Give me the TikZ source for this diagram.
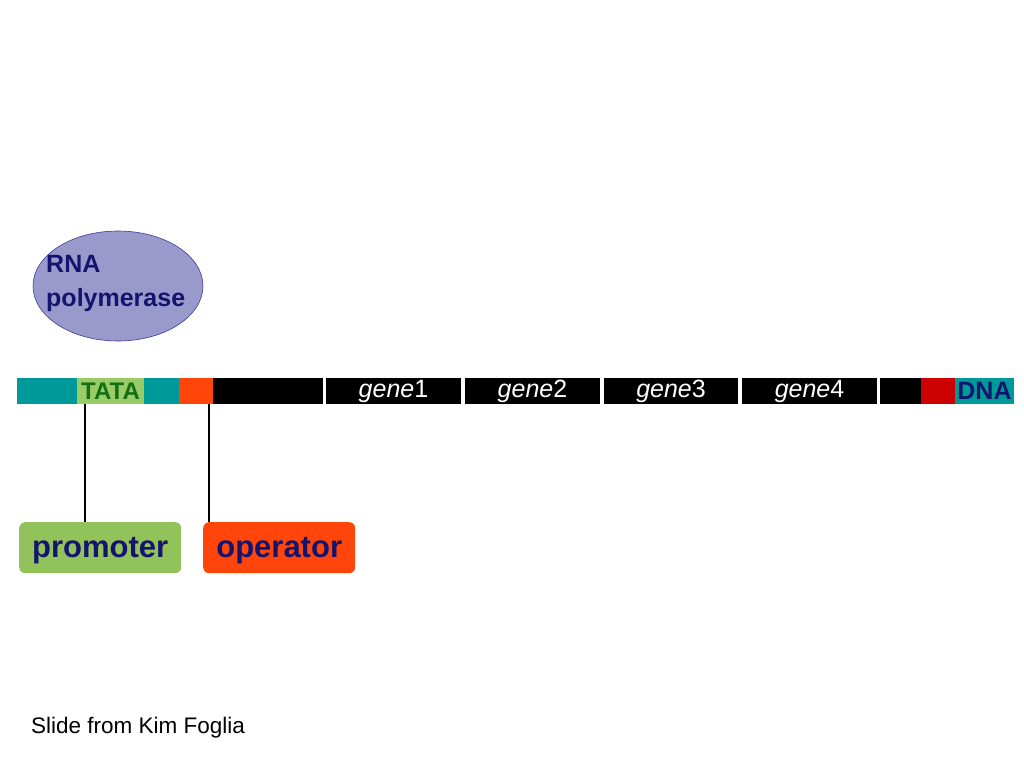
\documentclass[tikz,border=0pt]{standalone}
\usepackage{fontspec}
\setmainfont{Liberation Sans}
\usetikzlibrary{shapes.geometric}
\definecolor{teal0}{RGB}{0,153,153}
\definecolor{tatag}{RGB}{153,204,102}
\definecolor{tatatxt}{RGB}{20,110,20}
\definecolor{orng}{RGB}{255,69,10}
\definecolor{redd}{RGB}{204,0,0}
\definecolor{navy0}{RGB}{20,20,110}
\definecolor{promg}{RGB}{146,194,90}
\definecolor{polyfill}{RGB}{153,153,204}
\definecolor{polyedge}{RGB}{60,60,150}
\tikzset{
  seg/.style={draw=none,inner sep=0,outer sep=0,minimum height=26pt,anchor=west},
  genelbl/.style={text=white,font=\fontsize{25}{25}\selectfont},
  lbox/.style={rounded corners=6pt,inner sep=0,minimum width=#1,minimum height=51pt,anchor=north west,text=navy0,font=\bfseries\fontsize{31}{31}\selectfont},
  conn/.style={draw=black,line width=1.6pt}
}
\begin{document}
\begin{tikzpicture}[x=1pt,y=-1pt]
\useasboundingbox (0,0) rectangle (1024,768);
% DNA bar
\node[seg,fill=teal0,minimum width=162pt] (teal1) at (17,391) {};
\node[seg,fill=tatag,minimum width=67pt,text=tatatxt,font=\bfseries\fontsize{24}{24}\selectfont] (tata) at (77,391) {TATA};
\node[seg,fill=orng,minimum width=34pt] (oper) at (179,391) {};
\node[seg,fill=black,minimum width=110pt] (blk1) at (213,391) {};
\node[seg,fill=black,minimum width=135pt,genelbl] (g1) at (326,391) {\itshape gene\upshape 1};
\node[seg,fill=black,minimum width=135pt,genelbl] (g2) at (465,391) {\itshape gene\upshape 2};
\node[seg,fill=black,minimum width=134pt,genelbl] (g3) at (604,391) {\itshape gene\upshape 3};
\node[seg,fill=black,minimum width=135pt,genelbl] (g4) at (742,391) {\itshape gene\upshape 4};
\node[seg,fill=black,minimum width=41pt] (blk2) at (880,391) {};
\node[seg,fill=redd,minimum width=34pt] (red) at (921,391) {};
\node[seg,fill=teal0,minimum width=59pt,text=navy0,font=\bfseries\fontsize{25}{25}\selectfont] (dna) at (955,391) {DNA};
% RNA polymerase
\node[ellipse,draw=polyedge,line width=0.6pt,fill=polyfill,minimum width=170pt,minimum height=110pt,inner sep=0] (rnap) at (118,286) {};
\node[anchor=west,text=navy0,font=\bfseries\fontsize{25}{25}\selectfont,inner sep=0] (rnat) at (46,264) {RNA};
\node[anchor=west,text=navy0,font=\bfseries\fontsize{25}{25}\selectfont,inner sep=0] (polyt) at (46,300) {polymerase};
% label boxes
\node[lbox=162pt,fill=promg] (promoter) at (19,522) {\raisebox{-3pt}[\height][\depth]{promoter}};
\node[lbox=152pt,fill=orng] (operator) at (203,522) {\raisebox{-3pt}[\height][\depth]{operator}};
% connectors
\coordinate (pl) at (85,404);
\coordinate (ol) at (209,404);
\draw[conn] (pl) -- (pl |- promoter.north);
\draw[conn] (ol) -- (ol |- operator.north);
% credit
\node[anchor=west,inner sep=0,font=\fontsize{22.5}{22.5}\selectfont] (credit) at (31,728) {Slide from Kim Foglia};
\end{tikzpicture}
\end{document}
